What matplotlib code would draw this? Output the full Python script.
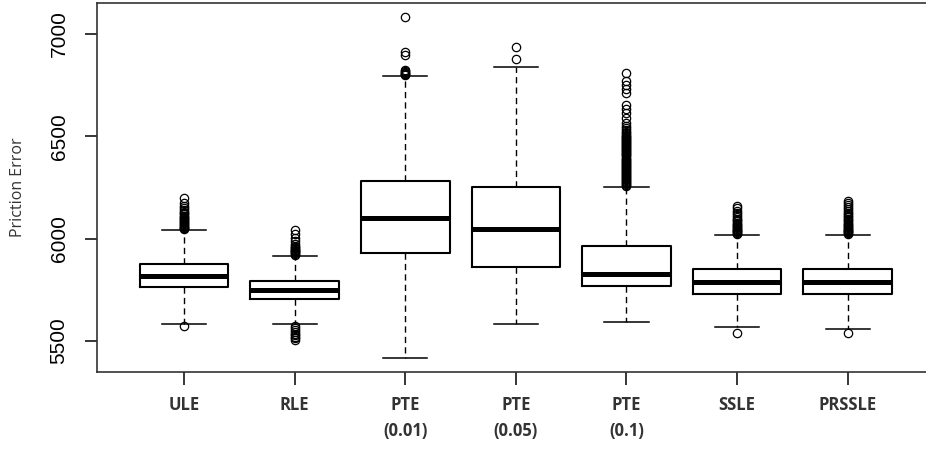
import numpy as np
import matplotlib
matplotlib.use("Agg")
from matplotlib import pyplot as plt

labels = ['ULE', 'RLE', 'PTE\n(0.01)', 'PTE\n(0.05)', 'PTE\n(0.1)', 'SSLE', 'PRSSLE']

# five-number summaries
lower_whisker = [5583, 5583, 5417, 5583, 5590, 5568, 5560]
q1 = [5762, 5705, 5931, 5863, 5767, 5731, 5731]
median = [5816, 5748, 6102, 6047, 5829, 5788, 5788]
q3 = [5876, 5793, 6280, 6252, 5966, 5850, 5850]
upper_whisker = [6042, 5917, 6795, 6837, 6252, 6019, 6019]

# outliers
fliers_ule = [5572, 6046, 6050, 6054, 6058, 6062, 6066, 6070, 6075, 6080, 6085,
              6090, 6095, 6100, 6106, 6112, 6118, 6125, 6132, 6140, 6150, 6160,
              6172, 6200]
fliers_rle = [5506, 5512, 5520, 5528, 5535, 5545, 5555, 5565, 5575,
              5921, 5925, 5929, 5933, 5937, 5941, 5945, 5950, 5955, 5960, 5966,
              5975, 5990, 6005, 6020, 6042]
fliers_pte01 = [6798, 6802, 6806, 6810, 6815, 6820, 6824, 6897, 6910, 7085]
fliers_pte05 = [6878, 6935]
fliers_pte1 = [6256, 6261, 6266, 6271, 6276, 6281, 6286, 6291, 6296, 6301,
               6306, 6311, 6316, 6321, 6326, 6331, 6336, 6341, 6346, 6351,
               6356, 6361, 6366, 6371, 6376, 6381, 6386, 6391, 6396, 6401,
               6406, 6411, 6416, 6421, 6426, 6431, 6436, 6441, 6446, 6451,
               6456, 6461, 6466, 6471, 6476, 6481, 6486, 6491, 6496, 6501,
               6507, 6514, 6521, 6530, 6540, 6550, 6564, 6588, 6612, 6632,
               6653, 6710, 6730, 6751, 6772, 6811]
fliers_ssle = [5540, 6023, 6027, 6031, 6035, 6039, 6043, 6047, 6052, 6057,
               6062, 6067, 6072, 6078, 6084, 6090, 6098, 6106, 6115, 6125,
               6135, 6147, 6160]
fliers_prssle = [5540, 6023, 6027, 6031, 6035, 6039, 6043, 6047, 6052, 6057,
                 6062, 6067, 6072, 6078, 6084, 6090, 6096, 6103, 6110, 6118,
                 6126, 6134, 6143, 6152, 6162, 6172, 6182]
fliers = [fliers_ule, fliers_rle, fliers_pte01, fliers_pte05, fliers_pte1,
          fliers_ssle, fliers_prssle]

yticks = [5500, 6000, 6500, 7000]

stats = []
for i in range(len(labels)):
    stats.append(dict(whislo=lower_whisker[i], q1=q1[i], med=median[i],
                      q3=q3[i], whishi=upper_whisker[i], fliers=fliers[i]))

fig = plt.figure(figsize=(9.26, 4.5), dpi=100)
ax = fig.add_axes([97 / 926, 78 / 450, 1 - 97 / 926, 369 / 450])

pos = np.arange(1, len(labels) + 1)
ax.bxp(stats, positions=pos, widths=0.8, patch_artist=False, capwidths=0.4,
       boxprops=dict(color='black', linewidth=1.5),
       medianprops=dict(color='black', linewidth=3.6, solid_capstyle='butt'),
       whiskerprops=dict(color='black', linewidth=1.0, linestyle=(0, (4.5, 3))),
       capprops=dict(color='black', linewidth=1.1),
       flierprops=dict(marker='o', markerfacecolor='none', markeredgecolor='black',
                       markersize=6, markeredgewidth=0.9))

ax.set_xlim(0.213, 7.708)
ax.set_ylim(5348, 7151)

ax.set_xticks(pos)
ax.set_xticklabels(labels, family=['Open Sans', 'DejaVu Sans'], fontsize=12,
                   fontweight='bold', linespacing=1.6, color='#333333')
ax.set_yticks(yticks)
ax.set_yticklabels([str(v) for v in yticks], family=['Liberation Sans', 'DejaVu Sans'],
                   fontsize=15, rotation=90, va='center')
ax.tick_params(axis='y', length=8.5, width=1.1, pad=12)
ax.tick_params(axis='x', length=9, width=1.1, pad=8)

ax.set_ylabel('Priction Error', family=['Open Sans', 'DejaVu Sans'], fontsize=11.5,
              color='#333333')
ax.yaxis.set_label_coords(-71 / 829, 0.5)

for s in ['left', 'bottom', 'top']:
    ax.spines[s].set_linewidth(1.2)
    ax.spines[s].set_color('#333333')
ax.spines['right'].set_visible(False)

fig.savefig('out.png', dpi=100)
